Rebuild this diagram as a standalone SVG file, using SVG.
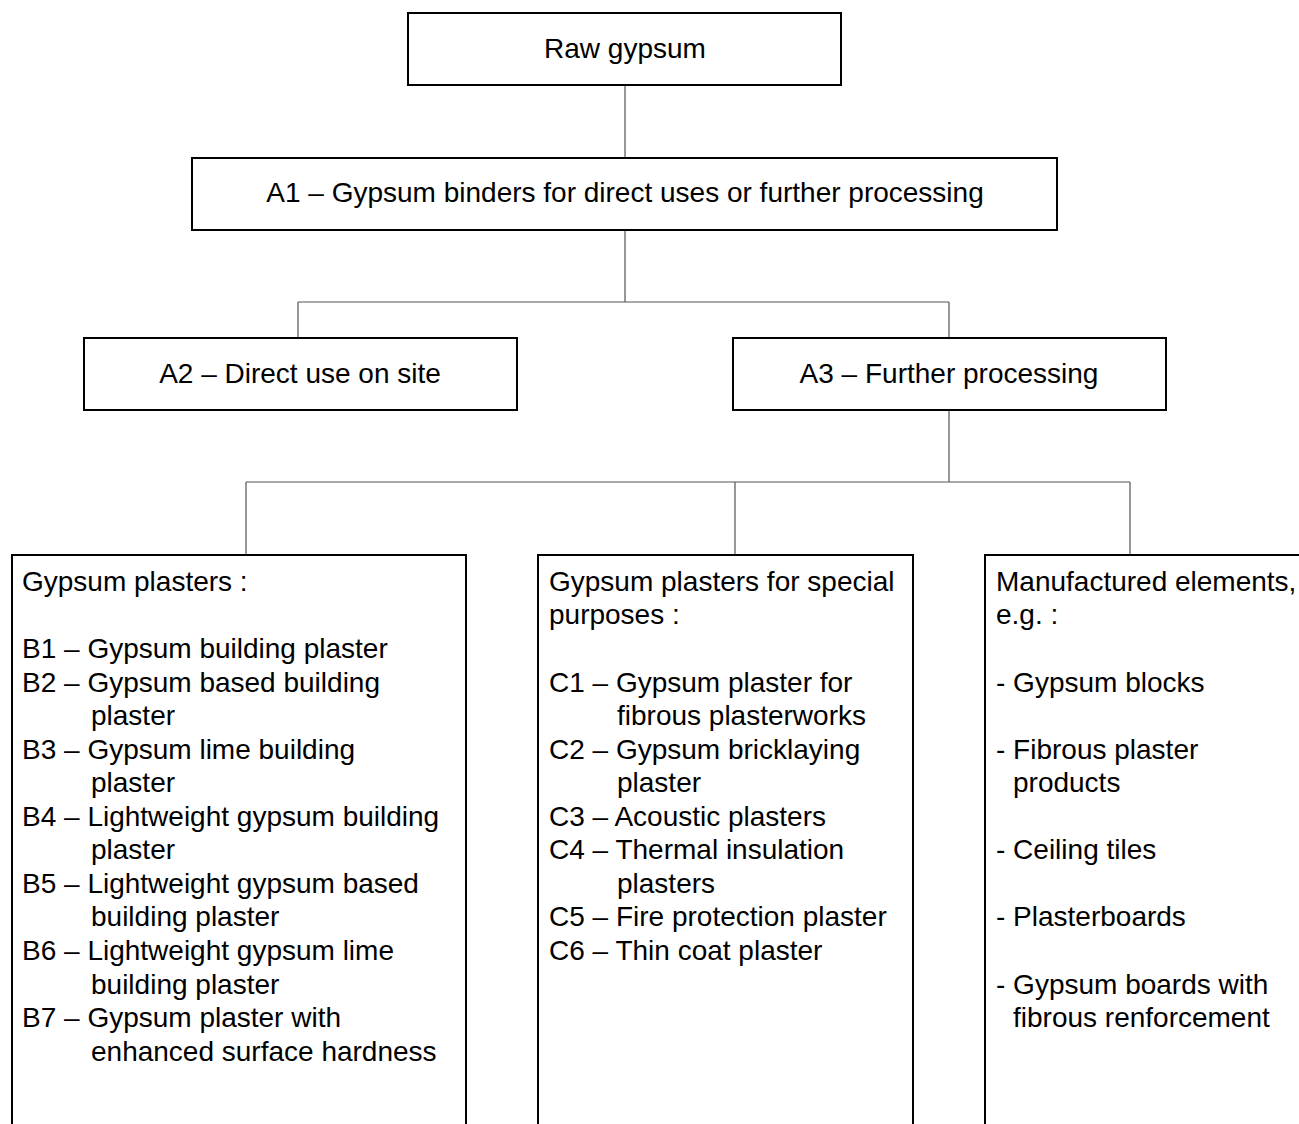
<svg xmlns="http://www.w3.org/2000/svg" width="1299" height="1124" viewBox="0 0 1299 1124">
<style>
.box{fill:#fff;stroke:#000;stroke-width:2}
.t{font-family:"Liberation Sans",Arial,sans-serif;font-size:28px;fill:#000}
.c{text-anchor:middle}
.conn{fill:none;stroke:#555;stroke-width:1.2}
</style>
<rect width="1299" height="1124" fill="#fff"/>
<g id="connectors">
<path class="conn" d="M625 85V158M625 230V302M298 302H949M298 302V338M949 302V338M949 410V482M246 482H1130M246 482V555M735 482V555M1130 482V555"/>
</g>
<g id="raw">
<rect class="box" x="408" y="13" width="433" height="72"/>
<text class="t c" x="625" y="58">Raw gypsum</text>
</g>
<g id="a1">
<rect class="box" x="192" y="158" width="865" height="72"/>
<text class="t c" x="625" y="202">A1 – Gypsum binders for direct uses or further processing</text>
</g>
<g id="a2">
<rect class="box" x="84" y="338" width="433" height="72"/>
<text class="t c" x="300" y="383">A2 – Direct use on site</text>
</g>
<g id="a3">
<rect class="box" x="733" y="338" width="433" height="72"/>
<text class="t c" x="949" y="383">A3 – Further processing</text>
</g>
<g id="b">
<rect class="box" x="12" y="555" width="454" height="600"/>
<text class="t" x="22" y="591">Gypsum plasters :</text>
<text class="t" x="22" y="658">B1 – Gypsum building plaster</text>
<text class="t" x="22" y="692">B2 – Gypsum based building</text>
<text class="t" x="91" y="725">plaster</text>
<text class="t" x="22" y="759">B3 – Gypsum lime building</text>
<text class="t" x="91" y="792">plaster</text>
<text class="t" x="22" y="826">B4 – Lightweight gypsum  building</text>
<text class="t" x="91" y="859">plaster</text>
<text class="t" x="22" y="893">B5 – Lightweight gypsum  based</text>
<text class="t" x="91" y="926">building plaster</text>
<text class="t" x="22" y="960">B6 – Lightweight gypsum lime</text>
<text class="t" x="91" y="994">building plaster</text>
<text class="t" x="22" y="1027">B7 – Gypsum plaster with</text>
<text class="t" x="91" y="1061">enhanced surface hardness</text>
</g>
<g id="c">
<rect class="box" x="538" y="555" width="375" height="600"/>
<text class="t" x="549" y="591">Gypsum plasters for special</text>
<text class="t" x="549" y="624">purposes :</text>
<text class="t" x="549" y="692">C1 – Gypsum plaster for</text>
<text class="t" x="617" y="725">fibrous plasterworks</text>
<text class="t" x="549" y="759">C2 – Gypsum bricklaying</text>
<text class="t" x="617" y="792">plaster</text>
<text class="t" x="549" y="826">C3 – Acoustic plasters</text>
<text class="t" x="549" y="859">C4 – Thermal insulation</text>
<text class="t" x="617" y="893">plasters</text>
<text class="t" x="549" y="926">C5 – Fire protection plaster</text>
<text class="t" x="549" y="960">C6 – Thin coat plaster</text>
</g>
<g id="m">
<rect class="box" x="985" y="555" width="340" height="600"/>
<text class="t" x="996" y="591">Manufactured elements,</text>
<text class="t" x="996" y="624">e.g. :</text>
<text class="t" x="996" y="692">- Gypsum blocks</text>
<text class="t" x="996" y="759">- Fibrous plaster</text>
<text class="t" x="1013" y="792">products</text>
<text class="t" x="996" y="859">- Ceiling tiles</text>
<text class="t" x="996" y="926">- Plasterboards</text>
<text class="t" x="996" y="994">- Gypsum boards with</text>
<text class="t" x="1013" y="1027">fibrous renforcement</text>
</g>
</svg>
